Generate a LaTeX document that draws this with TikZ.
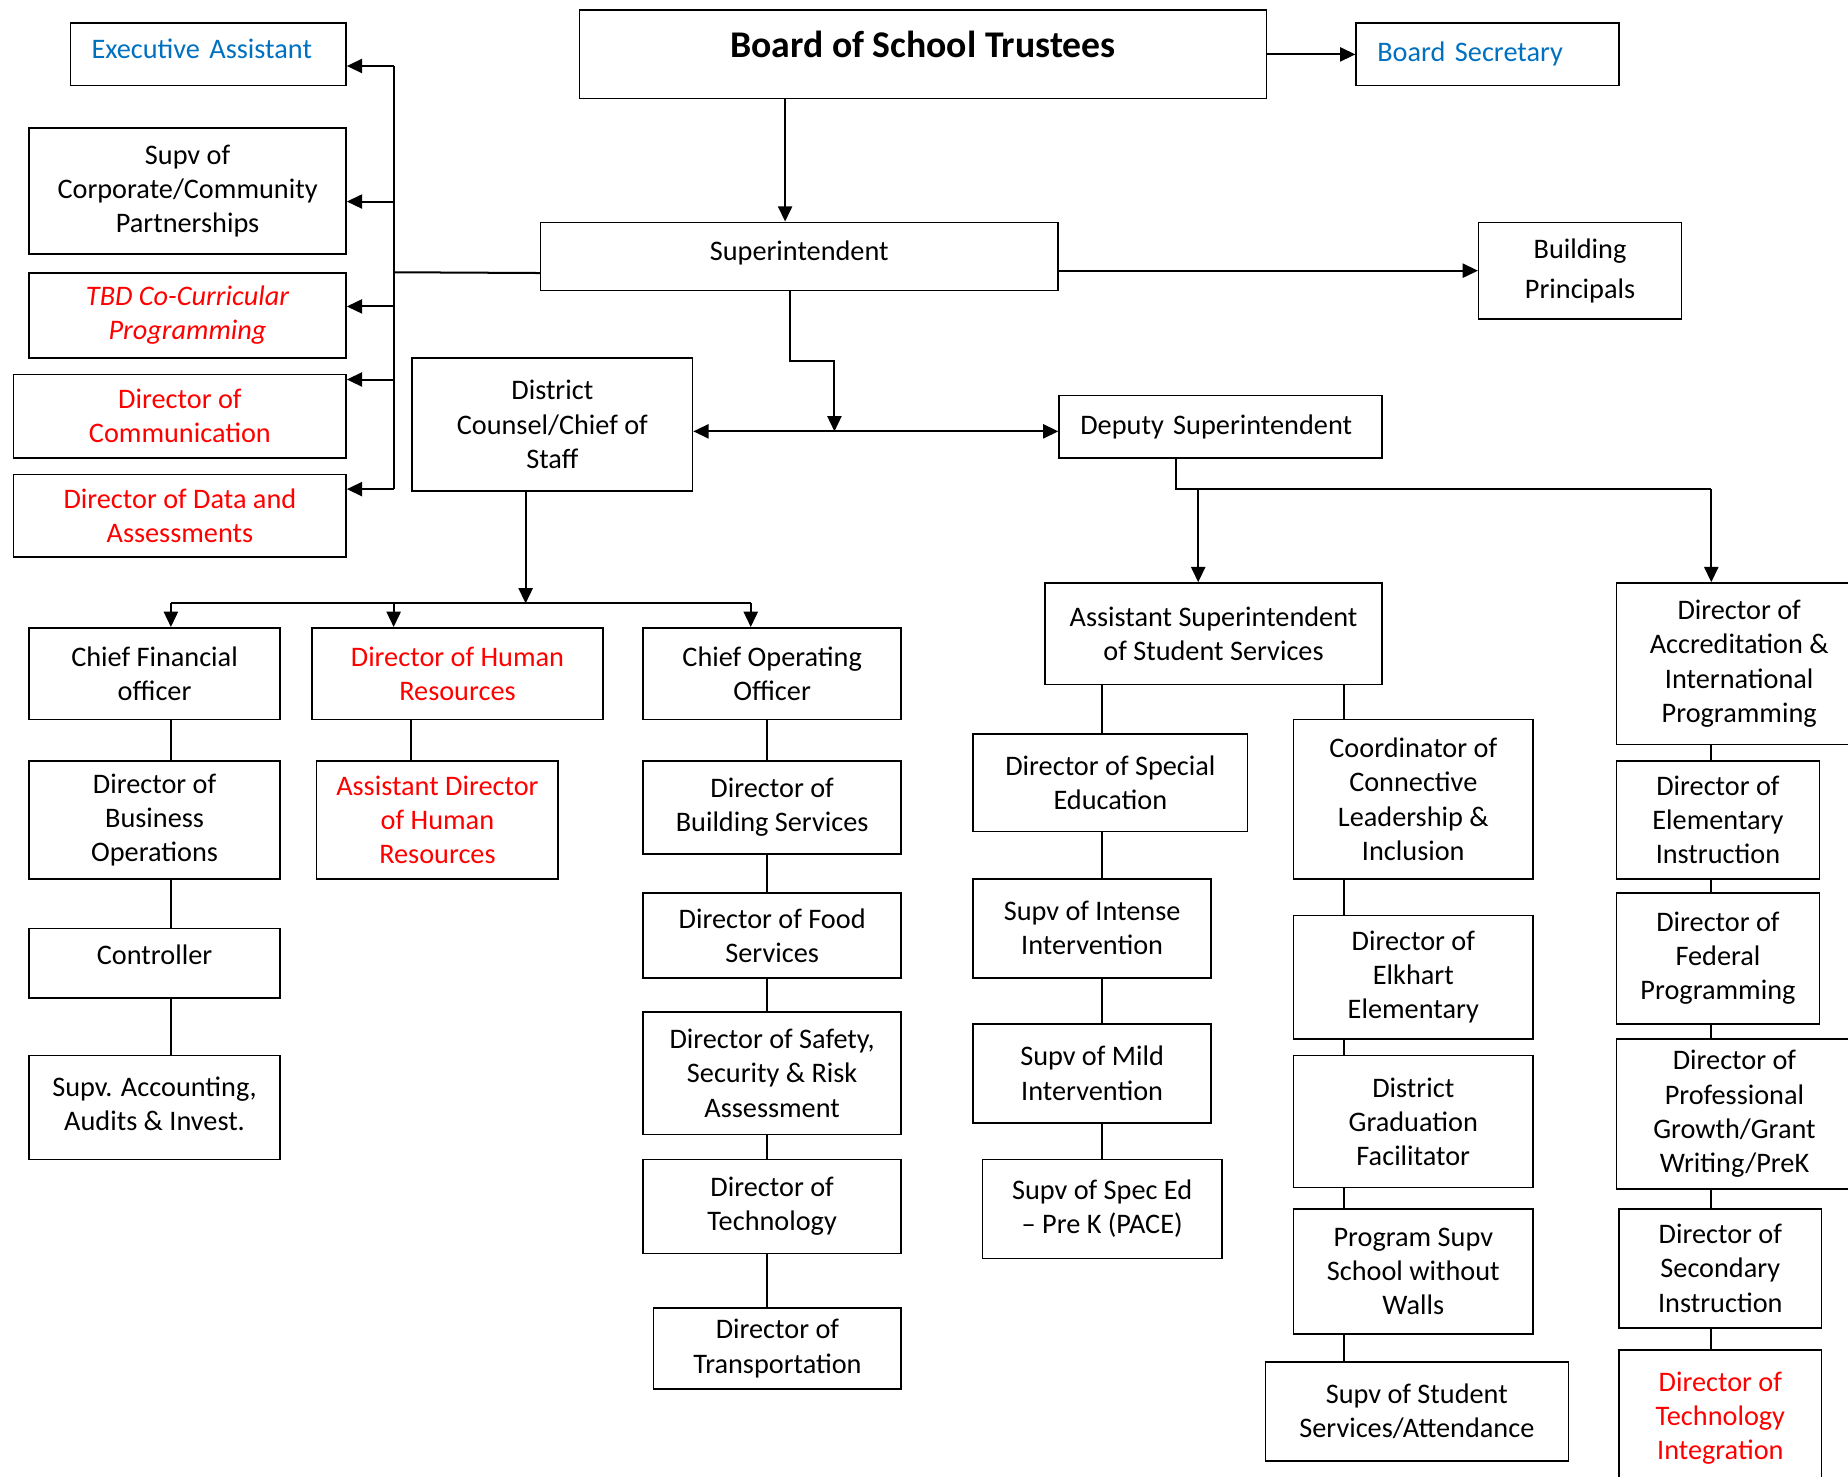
\documentclass[tikz,border=0pt]{standalone}
\usepackage{fontspec}
\setmainfont{Carlito}
\usetikzlibrary{arrows.meta}
\definecolor{OrgBlue}{HTML}{0070C0}
\definecolor{OrgRed}{HTML}{FF0000}
\tikzset{
  post/.style={rectangle, draw=black, line width=1.3pt, anchor=north west,
    align=center, inner sep=2pt, font=\fontsize{24}{29}\selectfont},
  redpost/.style={post, text=OrgRed},
  lefttag/.style={post, align=left, inner xsep=18pt},
  bluepost/.style={lefttag, text=OrgBlue},
  link/.style={line width=1.7pt},
  arrow/.style={link, -{Triangle[length=13pt,width=12pt]}}
}

\begin{document}
\begin{tikzpicture}[x=1pt, y=-1pt]
  \clip (0,0) rectangle (1568,1253);
  % top of the chart
  \node[post, minimum width=583pt, minimum height=75pt, text depth=17pt,
    font=\fontsize{32}{38}\selectfont\bfseries] (board) at (491,8) {Board of School Trustees};
  \node[bluepost, text width=187pt, minimum height=53pt] (secretary) at (1150,19) {Board Secretary};
  \node[post, minimum width=439pt, minimum height=58pt, text depth=10pt] (supt) at (458,188) {Superintendent};
  \node[post, minimum width=172pt, minimum height=82pt] (principals) at (1254,188) {Building\\[5pt]Principals};
  \node[post, minimum width=238pt, minimum height=113pt] (counsel) at (349,303) {District\\Counsel/Chief of\\Staff};
  \node[lefttag, text width=238pt, minimum height=53pt] (deputy) at (898,335) {Deputy Superintendent};
  % staff on the left
  \node[bluepost, text width=198pt, minimum height=53pt, text depth=9pt] (exec) at (59,19) {Executive Assistant};
  \node[post, minimum width=269pt, minimum height=107pt] (corp) at (24,108) {Supv of\\Corporate/Community\\Partnerships};
  \node[redpost, minimum width=269pt, minimum height=72pt, font=\fontsize{24}{29}\selectfont\itshape] (tbd) at (24,231) {TBD Co-Curricular\\Programming};
  \node[redpost, minimum width=282pt, minimum height=71pt] (comm) at (11,317) {Director of\\Communication};
  \node[redpost, minimum width=282pt, minimum height=70pt] (data) at (11,402) {Director of Data and\\Assessments};
  % finance, HR, operations
  \node[post, minimum width=213pt, minimum height=78pt] (cfo) at (24,532) {Chief Financial\\officer};
  \node[post, minimum width=213pt, minimum height=100pt] (bizops) at (24,645) {Director of\\Business\\Operations};
  \node[post, minimum width=213pt, minimum height=59pt, text depth=14pt] (controller) at (24,787) {Controller};
  \node[post, minimum width=213pt, minimum height=88pt] (acct) at (24,895) {Supv. Accounting,\\Audits \& Invest.\\[-22pt]\mbox{}};
  \node[redpost, minimum width=247pt, minimum height=78pt] (hrdir) at (264,532) {Director of Human\\Resources};
  \node[redpost, minimum width=205pt, minimum height=100pt] (asthr) at (268,645) {Assistant Director\\of Human\\Resources};
  \node[post, minimum width=219pt, minimum height=78pt] (coo) at (545,532) {Chief Operating\\Officer};
  \node[post, minimum width=219pt, minimum height=79pt] (bldg) at (545,645) {Director of\\Building Services};
  \node[post, minimum width=219pt, minimum height=72pt] (food) at (545,757) {Director of Food\\Services};
  \node[post, minimum width=219pt, minimum height=104pt] (safety) at (545,858) {Director of Safety,\\Security \& Risk\\Assessment};
  \node[post, minimum width=219pt, minimum height=80pt] (tech) at (545,983) {Director of\\Technology};
  \node[post, minimum width=210pt, minimum height=69pt] (transport) at (554,1109) {Director of\\Transportation};
  % student services
  \node[post, minimum width=286pt, minimum height=86pt] (studsup) at (886,494) {Assistant Superintendent\\of Student Services};
  \node[post, minimum width=233pt, minimum height=83pt] (sped) at (825,622) {Director of Special\\Education};
  \node[post, minimum width=202pt, minimum height=84pt] (intense) at (825,745) {Supv of Intense\\Intervention};
  \node[post, minimum width=202pt, minimum height=84pt] (mild) at (825,868) {Supv of Mild\\Intervention};
  \node[post, minimum width=203pt, minimum height=84pt] (pace) at (833,983) {Supv of Spec Ed\\-- Pre K (PACE)};
  \node[post, minimum width=203pt, minimum height=135pt] (coord) at (1097,610) {Coordinator of\\Connective\\Leadership \&\\Inclusion};
  \node[post, minimum width=203pt, minimum height=105pt] (elkhart) at (1097,776) {Director of\\Elkhart\\Elementary};
  \node[post, minimum width=203pt, minimum height=112pt] (gradfac) at (1097,895) {District\\Graduation\\Facilitator};
  \node[post, minimum width=203pt, minimum height=106pt] (walls) at (1097,1025) {Program Supv\\School without\\Walls};
  \node[post, minimum width=257pt, minimum height=84pt] (attend) at (1073,1155) {Supv of Student\\Services/Attendance};
  % instruction
  \node[post, minimum width=208pt, minimum height=137pt] (accred) at (1371,494) {Director of\\Accreditation \&\\International\\Programming};
  \node[post, minimum width=172pt, minimum height=100pt] (elem) at (1371,645) {Director of\\Elementary\\Instruction};
  \node[post, minimum width=172pt, minimum height=111pt] (federal) at (1371,757) {Director of\\Federal\\Programming};
  \node[post, minimum width=200pt, minimum height=127pt] (profgrowth) at (1371,881) {Director of\\Professional\\Growth/Grant\\Writing/PreK};
  \node[post, minimum width=172pt, minimum height=101pt] (secondary) at (1373,1025) {Director of\\Secondary\\Instruction};
  \node[redpost, minimum width=172pt, minimum height=115pt] (techint) at (1373,1145) {Director of\\Technology\\Integration};

  % spines
  \coordinate (bus) at (334,231);
  \coordinate (split) at (708,366);
  \coordinate (finHub) at (446,512);
  \coordinate (cfoSpine) at (145,0);
  \coordinate (hrSpine) at (349,0);
  \coordinate (cooTop) at (637,0);
  \coordinate (cooSpine) at (651,0);
  \coordinate (leftSpine) at (935,0);
  \coordinate (rightSpine) at (1140,0);
  \coordinate (acadSpine) at (1452,415);

  % board and superintendent
  \draw[arrow] ([xshift=-12pt]supt.north |- board.south) -- ([xshift=-12pt]supt.north);
  \draw[arrow] (board) -- (secretary);
  \draw[arrow] (supt.east |- principals.west) -- (principals.west);
  \draw[link] ([yshift=-14pt]supt.west) -- (bus);
  \draw[link] (bus |- 0,56) -- (bus |- 0,415);
  \foreach \n/\y in {exec/56, corp/171, tbd/260, comm/322, data/415}
    \draw[arrow] (bus |- 0,\y) -- (\n.east |- 0,\y);
  \draw[arrow] ([xshift=-8pt]supt.south) |- (split |- 0,306) -- (split);
  \draw[arrow] (split) -- (counsel.east |- split);
  \draw[arrow] (split) -- (deputy.west |- split);

  % district counsel
  \draw[arrow] (finHub |- counsel.south) -- (finHub);
  \draw[link] (cfoSpine |- finHub) -- (cooTop |- finHub);
  \draw[arrow] (cfoSpine |- finHub) -- (cfoSpine |- cfo.north);
  \draw[arrow] (bus |- finHub) -- (bus |- hrdir.north);
  \draw[arrow] (cooTop |- finHub) -- (cooTop |- coo.north);
  \foreach \a/\b in {cfo/bizops, bizops/controller, controller/acct}
    \draw[link] (cfoSpine |- \a.south) -- (cfoSpine |- \b.north);
  \draw[link] (hrSpine |- hrdir.south) -- (hrSpine |- asthr.north);
  \foreach \a/\b in {coo/bldg, bldg/food, food/safety, safety/tech, tech/transport}
    \draw[link] (cooSpine |- \a.south) -- (cooSpine |- \b.north);

  % deputy superintendent
  \draw[link] ([xshift=-38pt]deputy.south) |- (acadSpine);
  \draw[arrow] (acadSpine) -- (acadSpine |- accred.north);
  \draw[arrow] ([xshift=-13pt]studsup.north |- acadSpine) -- ([xshift=-13pt]studsup.north);
  \foreach \a/\b in {studsup/sped, sped/intense, intense/mild, mild/pace}
    \draw[link] (leftSpine |- \a.south) -- (leftSpine |- \b.north);
  \foreach \a/\b in {studsup/coord, coord/elkhart, elkhart/gradfac, gradfac/walls, walls/attend}
    \draw[link] (rightSpine |- \a.south) -- (rightSpine |- \b.north);
  \foreach \a/\b in {accred/elem, elem/federal, federal/profgrowth, profgrowth/secondary, secondary/techint}
    \draw[link] (acadSpine |- \a.south) -- (acadSpine |- \b.north);
\end{tikzpicture}
\end{document}
